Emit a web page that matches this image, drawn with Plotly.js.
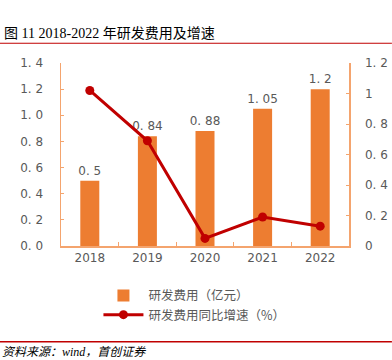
<!DOCTYPE html>
<html><head><meta charset="utf-8">
<script src="https://cdn.plot.ly/plotly-3.0.1.min.js"></script>
<style>body{margin:0;background:#fff}#chart{width:392px;height:360px}</style>
</head><body><div id="chart"></div>
<script>
const years = ['2018','2019','2020','2021','2022'];
const rdExpense = [0.5, 0.84, 0.88, 1.05, 1.2];
const rdGrowth = [1.02, 0.69, 0.05, 0.19, 0.13];
const leftTicks = [0, 0.2, 0.4, 0.6, 0.8, 1.0, 1.2, 1.4];
const rightTicks = [0, 0.2, 0.4, 0.6, 0.8, 1, 1.2];

const wide = s => String(s).replace('.', '. ');
const gray = '#595959';
const axisCol = '#F4A46E';
const fontFam = 'DejaVu Sans, Noto Sans CJK SC, sans-serif';

const traces = [
  {type:'bar', x:years, y:rdExpense, name:'研发费用（亿元）',
   marker:{color:'#ED7D31'}, text:rdExpense.map(wide), textposition:'outside', constraintext:'none',
   textfont:{color:gray,size:12,family:fontFam}, cliponaxis:false},
  {type:'scatter', mode:'lines+markers', x:years, y:rdGrowth, yaxis:'y2',
   name:'研发费用同比增速（%）', line:{color:'#C00000',width:3},
   marker:{color:'#C00000',size:9}}
];

const layout = {
  width:392, height:360, margin:{l:61,r:43,t:63,b:114},
  paper_bgcolor:'#fff', plot_bgcolor:'#fff', showlegend:true,
  font:{family:fontFam, color:gray, size:12},
  bargap:0.67,
  xaxis:{type:'category', tickvals:years, ticktext:years, showline:true, linecolor:axisCol, linewidth:1.5,
    ticks:'inside', tickson:'boundaries', ticklen:4, tickcolor:axisCol, tickfont:{size:12,color:gray}, showgrid:false},
  yaxis:{range:[0,1.4], tickvals:leftTicks, ticktext:leftTicks.map(v=>wide(v.toFixed(1))),
    showline:true, linecolor:axisCol, linewidth:1.5, ticks:'inside', ticklen:3, tickcolor:axisCol,
    showgrid:false, zeroline:false, ticklabelstandoff:14, tickfont:{size:12,color:gray}},
  yaxis2:{range:[0,1.2], overlaying:'y', side:'right', tickvals:rightTicks, ticktext:rightTicks.map(wide),
    showline:true, linecolor:axisCol, linewidth:1.5, ticks:'inside', ticklen:3, tickcolor:axisCol,
    showgrid:false, zeroline:false, ticklabelstandoff:12, tickfont:{size:12,color:gray}},
  legend:{orientation:'v', x:0.13, xanchor:'left', y:-0.19, yanchor:'top',
    font:{size:12.5,color:gray,family:'Noto Sans CJK SC, sans-serif'}, tracegroupgap:4, itemwidth:40},
  shapes:[
    {type:'line', xref:'paper', yref:'paper', x0:-0.212, x1:1.149, y0:1.108, y1:1.108, line:{color:'#C00000',width:1.2}},
    {type:'line', xref:'paper', yref:'paper', x0:-0.212, x1:1.149, y0:-0.523, y1:-0.523, line:{color:'#C00000',width:1.5}}
  ],
  annotations:[
    {xref:'paper', yref:'paper', x:-0.205, y:1.16, xanchor:'left', yanchor:'middle', showarrow:false,
     text:'图 11 2018-2022 年研发费用及增速', font:{size:14,color:'#000',family:'Liberation Serif, Noto Sans CJK SC, serif'}},
    {xref:'paper', yref:'paper', x:-0.212, y:-0.578, xanchor:'left', yanchor:'middle', showarrow:false,
     text:'<i>资料来源：wind，首创证券</i>', font:{size:12,color:'#000',family:'Liberation Serif, Noto Sans CJK SC, serif'}}
  ]
};
Plotly.newPlot('chart', traces, layout, {displayModeBar:false, staticPlot:true});
</script></body></html>
